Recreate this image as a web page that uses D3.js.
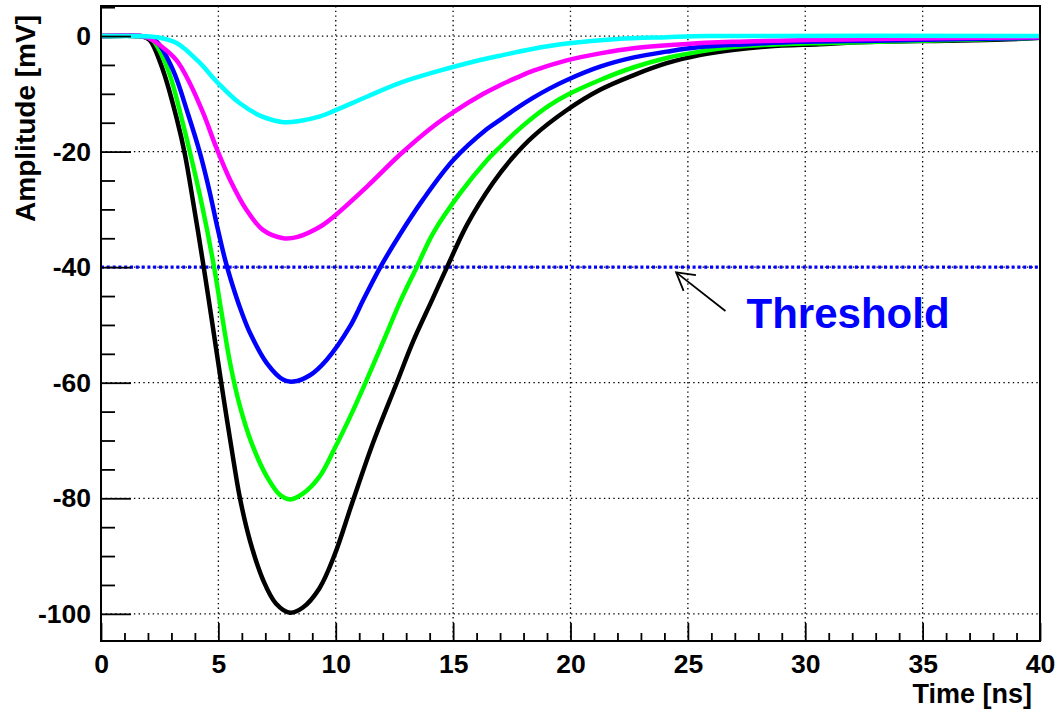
<!DOCTYPE html>
<html>
<head>
<meta charset="utf-8">
<script src="https://cdn.jsdelivr.net/npm/d3@7"></script>
<style>
  html, body { margin: 0; padding: 0; background: #fff; }
  svg { display: block; }
  text { font-family: "Liberation Sans", Arial, Helvetica, sans-serif; font-weight: bold; }
</style>
</head>
<body>
<svg id="chart" width="1055" height="709"></svg>
<script>
// ---------------- data ----------------
const xTicksMajor = [0, 5, 10, 15, 20, 25, 30, 35, 40];
const yTicksMajor = [0, -20, -40, -60, -80, -100];
const xTitle = "Time [ns]";
const yTitle = "Amplitude [mV]";
const thresholdValue = -40;
const thresholdLabel = "Threshold";
const arrowTip = [24.5, -40.9];
const arrowTail = [26.6, -47.6];
const labelPos = [27.5, -50.6];

const seriesBlack = [[0,0],[1.6,0],[1.85,-0.2],[2.1,-0.8],[2.64,-5.9],[3.24,-14.5],[3.58,-20.6],[3.92,-28.6],[4.36,-39.6],[4.64,-47.0],[4.9,-54.0],[5.22,-62.6],[5.57,-71.6],[5.92,-80.0],[6.35,-87.4],[6.9,-94.1],[7.45,-98.2],[8.05,-99.8],[8.6,-98.9],[9.3,-95.6],[9.95,-89.8],[10.7,-80.8],[11.59,-70.4],[12.6,-60],[13.3,-52.8],[14.1,-45.7],[14.74,-40],[15.6,-32.6],[16.7,-25.4],[17.5,-21.2],[18.4,-17.4],[19.85,-12.8],[21.26,-9.3],[22.7,-6.75],[24.1,-4.7],[25.5,-3.3],[26.9,-2.4],[28.4,-1.8],[30.6,-1.4],[33,-1.0],[36,-0.8],[38.4,-0.6],[40,-0.3]];
const seriesGreen = [[0,0],[1.65,0],[1.9,-0.2],[2.2,-0.7],[2.86,-5.9],[3.45,-14.5],[3.87,-21.5],[4.3,-29.2],[4.8,-39.6],[5.14,-48.0],[5.5,-56.6],[5.92,-64.1],[6.42,-70.5],[7.06,-76.2],[7.62,-79.4],[8.05,-80.2],[8.6,-79.2],[9.3,-76.3],[9.95,-71.4],[10.6,-66.0],[11.32,-59.5],[12.03,-52.8],[12.74,-46],[13.45,-40],[14.15,-34.1],[15.3,-27.2],[16.44,-21.5],[17.0,-19.2],[17.7,-16.5],[18.4,-14.1],[19.1,-12.0],[19.85,-10.2],[21.26,-7.6],[22.7,-5.4],[24.1,-3.8],[25.5,-2.7],[26.9,-1.9],[29,-1.4],[31,-1.2],[34,-0.9],[37.2,-0.6],[40,-0.3]];
const seriesBlue = [[0,0],[1.7,0],[2.0,-0.2],[2.38,-1],[3.07,-5.9],[3.7,-13.4],[4.22,-20.3],[4.62,-26.8],[4.93,-32.6],[5.3,-38.9],[5.75,-45.0],[6.0,-47.9],[6.35,-51.4],[7.06,-56.6],[7.77,-59.5],[8.19,-59.8],[8.9,-58.7],[9.6,-56.1],[10.6,-50.3],[11.17,-45.7],[11.9,-40],[12.74,-34.3],[13.7,-28.4],[15.0,-21.5],[16.44,-16.1],[17.0,-14.5],[17.7,-12.5],[18.4,-10.7],[19.1,-9.1],[19.85,-7.6],[21.26,-5.3],[22.7,-3.7],[24.1,-2.7],[25.5,-1.9],[27.6,-1.4],[29.8,-1.0],[33,-0.8],[35.7,-0.6],[40,-0.3]];
const seriesMagenta = [[0,0],[1.7,0],[2.0,-0.3],[2.51,-1.6],[3.22,-4.2],[3.79,-8.2],[4.36,-13.4],[4.93,-19.5],[5.5,-24.9],[6.2,-30.1],[6.91,-33.6],[7.77,-35],[8.34,-34.8],[9.33,-33],[9.9,-31.3],[11.32,-26.1],[12.74,-20.5],[14.16,-15.6],[15.0,-13.2],[16.29,-10.0],[17.0,-8.5],[17.71,-7.2],[18.42,-6.0],[19.84,-4.2],[21.26,-3.0],[22.68,-2.1],[24.8,-1.4],[26.9,-1.0],[30,-0.7],[33.2,-0.5],[40,-0.2]];
const seriesCyan = [[0,0],[1.5,0],[2.4,-0.2],[3.22,-1.2],[4.15,-4.4],[5.0,-8.2],[5.9,-11.6],[6.9,-14],[7.77,-14.9],[8.45,-14.7],[9.33,-13.9],[9.9,-13.0],[11.32,-10.5],[12.74,-8.1],[14.16,-6.3],[15.6,-4.7],[17.0,-3.4],[18.42,-2.2],[19.84,-1.3],[22,-0.5],[24.1,-0.2],[26,0],[40,0]];

const seriesList = [
  { name: "black", color: "#000000", data: seriesBlack },
  { name: "green", color: "#00ff00", data: seriesGreen },
  { name: "blue", color: "#0000ff", data: seriesBlue },
  { name: "magenta", color: "#ff00ff", data: seriesMagenta },
  { name: "cyan", color: "#00ffff", data: seriesCyan }
];

// ---------------- layout ----------------
const svg = d3.select("#chart");
const L = 101, R = 1040, T = 6, B = 641;
const x = d3.scaleLinear().domain([0, 40]).range([L, R]);
const y = d3.scaleLinear().domain([5.2, -104.7]).range([T, B]);

// grid
const grid = svg.append("g").attr("stroke", "#000").attr("stroke-width", 1.3).attr("stroke-dasharray", "1.4,3.3");
grid.selectAll("line.gx").data(xTicksMajor.filter(d => d > 0 && d < 40)).join("line")
  .attr("x1", d => x(d)).attr("x2", d => x(d)).attr("y1", T).attr("y2", B);
grid.selectAll("line.gy").data(yTicksMajor).join("line")
  .attr("class", "gy")
  .attr("x1", L).attr("x2", R).attr("y1", d => y(d)).attr("y2", d => y(d));

// threshold line
svg.append("line")
  .attr("x1", x(0)).attr("x2", x(40))
  .attr("y1", y(thresholdValue)).attr("y2", y(thresholdValue))
  .attr("stroke", "#0000ff").attr("stroke-width", 3.2).attr("stroke-dasharray", "3,2.8");

// curves
const line = d3.line().x(d => x(d[0])).y(d => y(d[1])).curve(d3.curveCatmullRom.alpha(0.5));
svg.append("g").selectAll("path").data(seriesList).join("path")
  .attr("d", s => line(s.data))
  .attr("fill", "none")
  .attr("stroke", s => s.color)
  .attr("stroke-width", 4.5)
  .attr("stroke-linejoin", "round");

// axes
const xMinor = d3.range(0, 41, 1).filter(d => d % 5 !== 0);
const yMinor = d3.range(5, -105, -5).filter(d => d % 20 !== 0);

const xAxisMajor = d3.axisBottom(x).tickValues(xTicksMajor).tickSize(-18).tickPadding(13).tickFormat(d3.format("d"));
const xAxisMinor = d3.axisBottom(x).tickValues(xMinor).tickSize(-8).tickFormat("");
const yAxisMajor = d3.axisLeft(y).tickValues(yTicksMajor).tickSize(-30).tickPadding(10).tickFormat(d => d === 0 ? "0" : String(d));
const yAxisMinor = d3.axisLeft(y).tickValues(yMinor).tickSize(-14).tickFormat("");

function styleAxis(g) {
  g.select(".domain").remove();
  g.selectAll(".tick line").attr("stroke", "#000").attr("stroke-width", 1.8);
  g.selectAll(".tick text").attr("fill", "#000").attr("font-size", 26.5).attr("font-weight", "bold")
    .attr("font-family", "'Liberation Sans', Arial, Helvetica, sans-serif");
}
svg.append("g").attr("transform", `translate(0,${B})`).call(xAxisMinor).call(styleAxis);
svg.append("g").attr("transform", `translate(0,${B})`).call(xAxisMajor).call(styleAxis);
svg.append("g").attr("transform", `translate(${L},0)`).call(yAxisMinor).call(styleAxis);
svg.append("g").attr("transform", `translate(${L},0)`).call(yAxisMajor).call(styleAxis);

// frame
svg.append("rect").attr("x", L).attr("y", T).attr("width", R - L).attr("height", B - T)
  .attr("fill", "none").attr("stroke", "#000").attr("stroke-width", 2);

// axis titles
svg.append("text").attr("x", 1032).attr("y", 703).attr("text-anchor", "end")
  .attr("font-size", 27).attr("fill", "#000").text(xTitle);
svg.append("text").attr("transform", "translate(35,15) rotate(-90)").attr("text-anchor", "end")
  .attr("font-size", 28).attr("fill", "#000").text(yTitle);

// arrow
const tx = x(arrowTip[0]), ty = y(arrowTip[1]);
const sx = x(arrowTail[0]), sy = y(arrowTail[1]);
const ang = Math.atan2(sy - ty, sx - tx);
const hl = 20, ha = Math.PI / 6;
const arrow = svg.append("g").attr("stroke", "#000").attr("stroke-width", 1.8).attr("fill", "none");
arrow.append("line").attr("x1", sx).attr("y1", sy).attr("x2", tx).attr("y2", ty);
arrow.append("path").attr("d",
  `M${tx + hl * Math.cos(ang - ha)},${ty + hl * Math.sin(ang - ha)}L${tx},${ty}L${tx + hl * Math.cos(ang + ha)},${ty + hl * Math.sin(ang + ha)}`);

// label
svg.append("text").attr("x", x(labelPos[0])).attr("y", y(labelPos[1]))
  .attr("font-size", 42).attr("fill", "#0000ff").text(thresholdLabel);
</script>
</body>
</html>
